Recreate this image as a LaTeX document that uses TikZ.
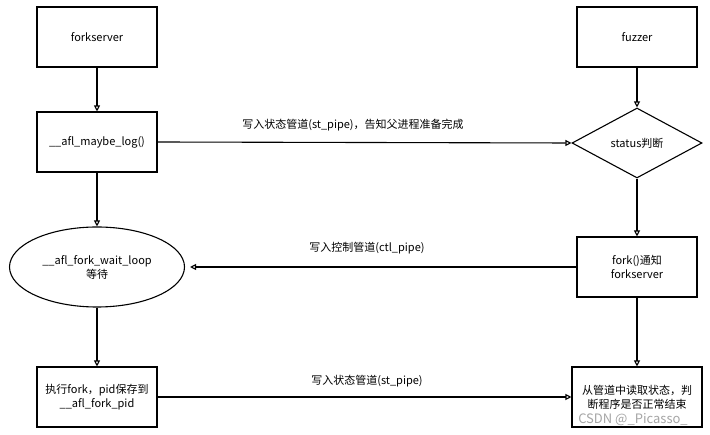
\documentclass[tikz,border=0pt]{standalone}
\usepackage{fontspec}
\setmainfont{Noto Sans CJK SC}
\usetikzlibrary{shapes.geometric,arrows.meta}
\begin{document}
\begin{tikzpicture}[x=1pt,y=-1pt,
  box/.style={draw, line width=1.1pt, minimum width=120pt, minimum height=60pt, inner sep=1pt, align=center, font=\fontsize{11}{14}\selectfont},
  lbl/.style={font=\fontsize{11}{13}\selectfont, inner sep=1pt},
  conn/.style={draw, line width=1.1pt, -{Triangle[open,length=6pt,width=6pt]}}]
\useasboundingbox (0,0) rectangle (710,435);
\fill[white] (0,0) rectangle (710,435);
\node[box] (fs) at (97,37) {forkserver};
\node[box] (log) at (97,142) {\_\_afl\_maybe\_log()};
\node[draw, line width=1.1pt, ellipse, minimum width=175pt, minimum height=80pt, inner sep=0pt, align=center, font=\fontsize{11}{14}\selectfont] (wait) at (97,267) {\_\_afl\_fork\_wait\_loop\\等待};
\node[box] (exec) at (97,397) {执行fork，pid保存到\\\_\_afl\_fork\_pid};
\node[box] (fz) at (637,37) {fuzzer};
\node[draw, line width=1.1pt, diamond, aspect=1.857, minimum width=130pt, minimum height=70pt, inner sep=0pt, font=\fontsize{11}{14}\selectfont] (st) at (637,143) {status判断};
\node[box] (fk) at (637,267) {fork()通知\\forkserver};
\node[box, minimum width=130pt] (rd) at (637,397) {从管道中读取状态，判\\断程序是否正常结束};
\node[font=\fontsize{13}{14}\selectfont, text=black!35, inner sep=0pt] (wm) at (633,420) {CSDN @\_Picasso\_};
\path[conn] (fs) -- (log);
\path[conn] (log) -- (wait);
\path[conn] (wait) -- (exec);
\path[conn] (fz) -- (st);
\path[conn] (st) -- (fk);
\path[conn] (fk) -- (rd);
\path[conn] (log.east) -- (st.west);
\path[conn] (fk.west) -- ([xshift=5pt]wait.east);
\path[conn] (exec.east) -- (rd.west);
\node[lbl] (l1) at (353,125) {写入状态管道(st\_pipe)，告知父进程准备完成};
\node[lbl] (l2) at (367,248) {写入控制管道(ctl\_pipe)};
\node[lbl] (l3) at (367,381) {写入状态管道(st\_pipe)};
\end{tikzpicture}
\end{document}
